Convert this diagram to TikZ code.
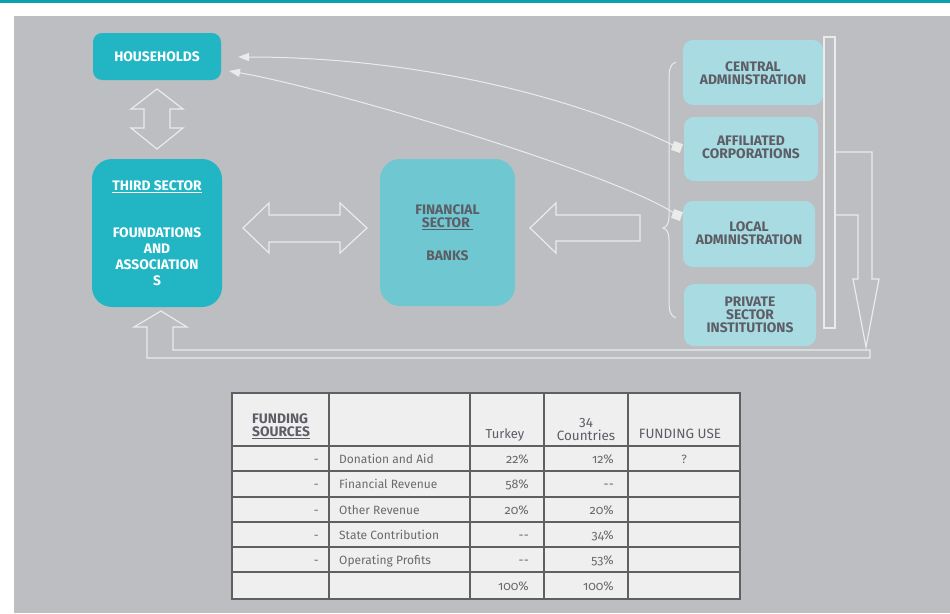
\documentclass[tikz,border=0pt]{standalone}
\usepackage{fontspec}
\setmainfont{Fira Sans}
\newfontfamily\oldnum{Fira Sans}[Numbers=OldStyle]
\usetikzlibrary{arrows.meta}

\definecolor{stripteal}{HTML}{0AA0AC}
\definecolor{bggray}{HTML}{BDBEC2}
\definecolor{teal}{HTML}{22B6C5}
\definecolor{finblue}{HTML}{6FC7D1}
\definecolor{paleblue}{HTML}{A9DBE2}
\definecolor{darktext}{HTML}{5D5D66}
\definecolor{outline}{HTML}{EBEBEB}
\definecolor{cellfill}{HTML}{EFEFEF}
\definecolor{gridline}{HTML}{606060}
\definecolor{celltext}{HTML}{6A6A6A}

\tikzset{
  tealbox/.style={fill=teal, rounded corners=9pt, inner sep=0pt},
  finbox/.style={fill=finblue, rounded corners=20pt, inner sep=0pt},
  govbox/.style={fill=paleblue, rounded corners=10pt, inner sep=0pt},
  whitelabel/.style={text=white, font=\fontsize{13.8}{16}\selectfont\bfseries, align=center, inner sep=0pt},
  graylabel/.style={text=darktext, font=\fontsize{13.8}{13}\selectfont\bfseries, align=center, inner sep=0pt},
  blockarrow/.style={draw=outline, line width=1.2pt, line join=miter},
  flowcurve/.style={draw=outline, line width=1pt, -{Triangle[length=11pt,width=8pt]}},
  sqmark/.style={fill=outline, minimum size=9pt, inner sep=0pt, rotate=-20},
  cell/.style={text=celltext, font=\fontsize{12}{14}\selectfont, inner sep=0pt},
  pct/.style={cell, anchor=mid east, font=\fontsize{12.5}{14}\selectfont\oldnum},
  headcell/.style={text=darktext, font=\fontsize{13.5}{13}\selectfont, inner sep=0pt, align=center},
}

\begin{document}
\begin{tikzpicture}[x=1pt, y=-1pt]
\useasboundingbox (0,0) rectangle (950,613);
\fill[white] (0,0) rectangle (950,613);
\fill[stripteal] (0,0) rectangle (950,3);
\fill[bggray] (14,16) rectangle (950,613);

% ---------- boxes ----------
\node[tealbox, minimum width=128pt, minimum height=47pt] (hh) at (157,56.5) {};
\node[whitelabel] at (157,57) {HOUSEHOLDS};

\node[tealbox, rounded corners=20pt, minimum width=130pt, minimum height=148pt] (ts) at (157,233) {};
\node[whitelabel] at (157,233) {\underline{THIRD SECTOR}\\[31pt]FOUNDATIONS\\AND\\ASSOCIATION\\S};

\node[finbox, minimum width=135pt, minimum height=147pt] (fs) at (447.5,232.5) {};
\node[graylabel] at (447.5,233) {FINANCIAL\\\underline{SECTOR\ }\\[20pt]BANKS};

\node[govbox, minimum width=140pt, minimum height=65pt] (ca) at (753,72.5) {};
\node[graylabel] at (753,73.5) {CENTRAL\\ADMINISTRATION};
\node[govbox, minimum width=134pt, minimum height=64pt] (ac) at (751,149) {};
\node[graylabel] at (751,147.5) {AFFILIATED\\CORPORATIONS};
\node[govbox, minimum width=132pt, minimum height=66pt] (la) at (749,234) {};
\node[graylabel] at (749,233.5) {LOCAL\\ADMINISTRATION};
\node[govbox, minimum width=132pt, minimum height=62pt] (ps) at (750,315) {};
\node[graylabel] at (750,314.5) {PRIVATE\\SECTOR\\INSTITUTIONS};

% ---------- block arrows ----------
% households <-> third sector
\draw[blockarrow] (157,89) -- (183,109) -- (170,109) -- (170,128) -- (183,128) -- (157,149)
  -- (131,128) -- (144,128) -- (144,109) -- (131,109) -- cycle;
% third sector <-> financial sector
\draw[blockarrow] (243,228) -- (269,203) -- (269,215) -- (340,215) -- (340,203) -- (367,228)
  -- (340,253) -- (340,242) -- (269,242) -- (269,253) -- cycle;
% institutions -> financial sector
\draw[blockarrow] (530,228) -- (556,203) -- (556,215) -- (640,215) -- (640,241)
  -- (556,241) -- (556,253) -- cycle;
% collecting bar beside the institutions
\draw[blockarrow] (824,37) rectangle (835,328);
% bent arrow down to the return channel
\draw[blockarrow] (835,152) -- (872,152) -- (872,279) -- (879,279) -- (866,347)
  -- (853,279) -- (858,279) -- (858,215) -- (835,215);
% return channel up into the third sector
\draw[blockarrow] (173,350) -- (173,327) -- (187,327) -- (161,311) -- (134,327) -- (147,327)
  -- (147,358) -- (870,358) -- (870,350) -- cycle;

% brace grouping the institutions
\draw[outline, line width=1pt] (676,62) .. controls (670,64) and (669,70) .. (669,80)
  -- (669,216) .. controls (669,223) and (667,227) .. (663,228)
  .. controls (667,229) and (669,233) .. (669,240)
  -- (669,300) .. controls (669,310) and (670,316) .. (676,318);

% ---------- flows to households ----------
\coordinate (hh1) at (238,57);
\coordinate (hh2) at (229,71);
\node[sqmark] (sq1) at (677,147) {};
\node[sqmark] (sq2) at (677,215) {};
\draw[flowcurve] (sq1.center) .. controls (560,90) and (400,57) .. (hh1);
\draw[flowcurve] (sq2.center) .. controls (620,175) and (329,88) .. (hh2);
\node[sqmark] at (sq1.center) {};
\node[sqmark] at (sq2.center) {};

% ---------- funding table ----------
\fill[cellfill] (232,393) rectangle (740,599);
\draw[gridline, line width=1.3pt] (232,393) rectangle (740,599);
\foreach \xx in {329,470,544,628} \draw[gridline, line width=1.3pt] (\xx,393) -- (\xx,599);
\foreach \yy in {446,471,497,522,547,572} \draw[gridline, line width=1.3pt] (232,\yy) -- (740,\yy);

\node[headcell, anchor=west, align=left, font=\fontsize{13.8}{13}\selectfont\bfseries] (h1) at (252,426.5) {FUNDING\\\underline{SOURCES}};
\node[headcell, anchor=mid, font=\fontsize{13}{13}\selectfont] (h3) at (505,436) {Turkey};
\node[headcell] (h4) at (586,429.5) {34\\Countries};
\node[headcell, anchor=mid] (h5) at (680,436) {FUNDING USE};

\foreach \yy/\lab/\tr/\oe [count=\i] in {461/Donation and Aid/22\%/12\%,
    486/Financial Revenue/58\%/-{}-,
    511.5/Other Revenue/20\%/20\%,
    536.5/State Contribution/-{}-/34\%,
    561.5/Operating Profits/-{}-/53\%}{
  \node[cell, anchor=mid east] (d\i) at (319,\yy) {-};
  \node[cell, anchor=mid west] (l\i) at (339,\yy) {\lab};
  \node[pct] (t\i) at (529,\yy) {\tr};
  \node[pct] (c\i) at (614,\yy) {\oe};
}
\node[cell, anchor=mid] (q) at (684,461) {?};
\node[pct] (tt) at (529,587.5) {100\%};
\node[pct] (ct) at (614,587.5) {100\%};
\end{tikzpicture}
\end{document}
